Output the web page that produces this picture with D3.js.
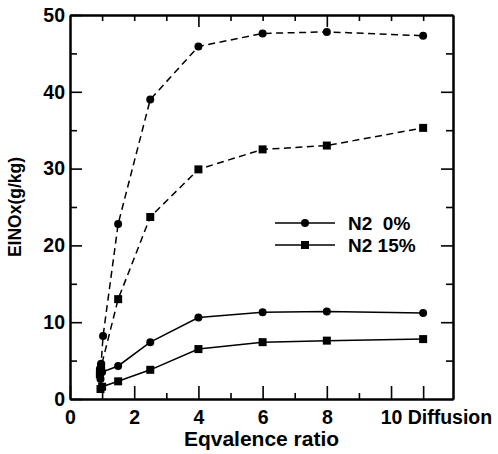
<!DOCTYPE html>
<html>
<head>
<meta charset="utf-8">
<script src="https://cdn.jsdelivr.net/npm/d3@7"></script>
<style>
  body { margin: 0; background: #fff; }
  text { font-family: "Liberation Sans", Arial, sans-serif; font-weight: bold; fill: #000; }
</style>
</head>
<body>
<div id="chart"></div>
<script>
// data
var xTicks = [0, 2, 4, 6, 8, 10, 11];
var xTickLabels = ["0", "2", "4", "6", "8", "10", "Diffusion"];
var yTicks = [0, 10, 20, 30, 40, 50];

var n0Solid_x = [0.95, 1.0, 1.5, 2.5, 4, 6, 8, 11];
var n0Solid_y = [2.6, 3.5, 4.3, 7.4, 10.6, 11.3, 11.4, 11.2];
var n15Solid_x = [0.95, 1.0, 1.5, 2.5, 4, 6, 8, 11];
var n15Solid_y = [1.3, 1.6, 2.3, 3.8, 6.5, 7.4, 7.6, 7.8];
var n0Dash_x = [0.93, 0.97, 1.03, 1.5, 2.5, 4, 6, 8, 11];
var n0Dash_y = [3.9, 4.6, 8.2, 22.8, 39.0, 45.9, 47.6, 47.8, 47.3];
var n15Dash_x = [0.93, 0.97, 1.5, 2.5, 4, 6, 8, 11];
var n15Dash_y = [3.2, 4.2, 13.0, 23.7, 29.9, 32.5, 33.0, 35.3];

var legendLabels = ["N2  0%", "N2 15%"];

var W = 498, H = 454;
var m = {left: 70, right: 45, top: 15, bottom: 55};

var svg = d3.select("#chart").append("svg")
  .attr("width", W).attr("height", H);

var x = d3.scaleLinear().domain([0, 11.93]).range([m.left, W - m.right]);
var y = d3.scaleLinear().domain([0, 50]).range([H - m.bottom, m.top]);

function pts(xs, ys) { return xs.map(function(v, i) { return [v, ys[i]]; }); }

var series = [
  {d: pts(n0Dash_x, n0Dash_y), shape: "circle", dash: "7,4.5"},
  {d: pts(n15Dash_x, n15Dash_y), shape: "square", dash: "7,4.5"},
  {d: pts(n0Solid_x, n0Solid_y), shape: "circle", dash: null},
  {d: pts(n15Solid_x, n15Solid_y), shape: "square", dash: null}
];

var line = d3.line().x(function(d) { return x(d[0]); }).y(function(d) { return y(d[1]); });

function marker(g, shape, cx, cy) {
  if (shape == "circle") {
    g.append("circle").attr("cx", cx).attr("cy", cy).attr("r", 4).attr("fill", "#000");
  } else {
    g.append("rect").attr("x", cx - 4).attr("y", cy - 4)
      .attr("width", 8).attr("height", 8).attr("fill", "#000");
  }
}

// axes
var minorX = [1, 3, 5, 7, 9];
var bottom = svg.append("g").attr("transform", "translate(0," + y(0) + ")")
  .call(d3.axisBottom(x).tickValues(xTicks).tickSizeInner(-13).tickSizeOuter(0)
    .tickFormat(function(d, i) { return xTickLabels[i]; }).tickPadding(11));
bottom.selectAll(".tick text").attr("font-size", 19.5).attr("font-family", null)
  .attr("dy", "0.71em");
bottom.selectAll(".tick text").filter(function(d) { return d == 11; })
  .attr("text-anchor", "start").attr("dx", -16);
svg.append("g").attr("transform", "translate(0," + y(0) + ")")
  .call(d3.axisBottom(x).tickValues(minorX).tickSizeInner(-6).tickSizeOuter(0).tickFormat(""));

svg.append("g").attr("transform", "translate(0," + y(50) + ")")
  .call(d3.axisTop(x).tickValues([4, 8]).tickSizeInner(-12).tickSizeOuter(0).tickFormat(""));
svg.append("g").attr("transform", "translate(0," + y(50) + ")")
  .call(d3.axisTop(x).tickValues([1, 2, 3, 5, 6, 7, 9, 10, 11]).tickSizeInner(-6).tickSizeOuter(0).tickFormat(""));

var left = svg.append("g").attr("transform", "translate(" + x(0) + ",0)")
  .call(d3.axisLeft(y).tickValues(yTicks).tickSizeInner(-12).tickSizeOuter(0).tickPadding(5));
left.selectAll(".tick text").attr("font-size", 19.5).attr("font-family", null);
svg.append("g").attr("transform", "translate(" + x(0) + ",0)")
  .call(d3.axisLeft(y).tickValues([5, 15, 25, 35, 45]).tickSizeInner(-7).tickSizeOuter(0).tickFormat(""));

svg.append("g").attr("transform", "translate(" + x(11.93) + ",0)")
  .call(d3.axisRight(y).tickValues([10, 20, 30, 40]).tickSizeInner(-12).tickSizeOuter(0).tickFormat(""));
svg.append("g").attr("transform", "translate(" + x(11.93) + ",0)")
  .call(d3.axisRight(y).tickValues([5, 15, 25, 35, 45]).tickSizeInner(-7).tickSizeOuter(0).tickFormat(""));

svg.selectAll(".domain").attr("stroke-width", 2);
svg.selectAll(".tick line").attr("stroke-width", 1.6);

// data lines
series.forEach(function(s) {
  svg.append("path").datum(s.d).attr("d", line)
    .attr("fill", "none").attr("stroke", "#000").attr("stroke-width", 1.5)
    .attr("stroke-dasharray", s.dash);
  var g = svg.append("g");
  s.d.forEach(function(p) { marker(g, s.shape, x(p[0]), y(p[1])); });
});

// legend
var lg = svg.append("g");
legendLabels.forEach(function(t, i) {
  var ly = 223 + i * 22;
  lg.append("line").attr("x1", 275).attr("x2", 335).attr("y1", ly).attr("y2", ly)
    .attr("stroke", "#000").attr("stroke-width", 1.3);
  marker(lg, i == 0 ? "circle" : "square", 305, ly);
  lg.append("text").attr("x", 348).attr("y", ly + 7).attr("font-size", 19)
    .style("white-space", "pre").attr("xml:space", "preserve").text(t);
});

// axis titles
svg.append("text").attr("x", (x(0) + x(11.93)) / 2).attr("y", 446)
  .attr("text-anchor", "middle").attr("font-size", 21).text("Eqvalence ratio");
svg.append("text").attr("transform", "translate(21," + (y(0) + y(50)) / 2 + ") rotate(-90)")
  .attr("text-anchor", "middle").attr("font-size", 17.5).text("EINOx(g/kg)");
</script>
</body>
</html>
